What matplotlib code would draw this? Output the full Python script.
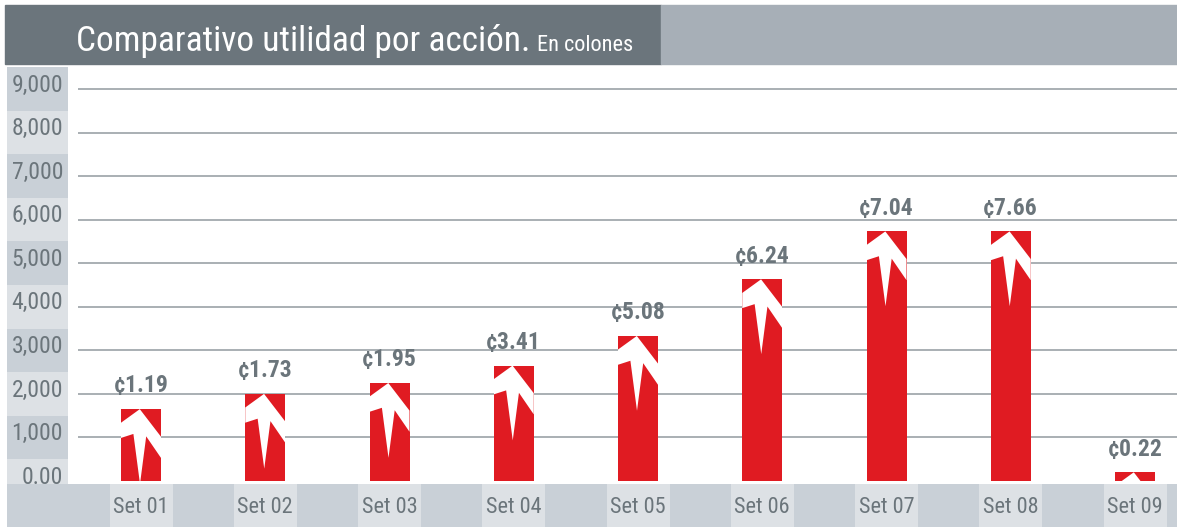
import matplotlib
matplotlib.use("Agg")
import matplotlib.pyplot as plt
from matplotlib import font_manager as fm
from matplotlib.patches import Rectangle, Polygon

# Data
categories = ["Set 01", "Set 02", "Set 03", "Set 04", "Set 05",
              "Set 06", "Set 07", "Set 08", "Set 09"]
values = [1650, 2000, 2250, 2650, 3330, 4630, 5730, 5730, 200]
value_labels = ["¢1.19", "¢1.73", "¢1.95", "¢3.41", "¢5.08",
                "¢6.24", "¢7.04", "¢7.66", "¢0.22"]
yticks = [0, 1000, 2000, 3000, 4000, 5000, 6000, 7000, 8000, 9000]
ytick_labels = ["0.00", "1,000", "2,000", "3,000", "4,000",
                "5,000", "6,000", "7,000", "8,000", "9,000"]
title = "Comparativo utilidad por acción."
subtitle = "En colones"

# Colours
red = "#e01b22"
text_gray = "#6b757b"
dark_bar = "#6b757c"
light_bar = "#a7afb7"
band_dark = "#c9d0d7"
band_light = "#dde1e5"
grid_color = "#a3a9ae"


def pick_font():
    for name in ["Liberation Sans Narrow", "Roboto Condensed", "Open Sans Condensed"]:
        try:
            fm.findfont(fm.FontProperties(family=name), fallback_to_default=False)
            return name
        except ValueError:
            pass
    return "DejaVu Sans"


font = pick_font()
plt.rcParams["font.family"] = [font, "DejaVu Sans"]

W, H = 1177, 527
fig = plt.figure(figsize=(W / 100, H / 100), dpi=100)


def fig_rect(x0, y0, x1, y1):
    # pixel box (top-left origin) -> figure fraction [left, bottom, width, height]
    return [x0 / W, 1 - y1 / H, (x1 - x0) / W, (y1 - y0) / H]


# Title bar
fig.patches.append(Rectangle((5 / W, 1 - 64 / H), (661 - 5) / W, 59 / H,
                             transform=fig.transFigure, color=dark_bar, zorder=0))
fig.patches.append(Rectangle((661 / W, 1 - 64 / H), (W - 661) / W, 59 / H,
                             transform=fig.transFigure, color=light_bar, zorder=0))
t = fig.text(76 / W, 1 - 51 / H, title, fontsize=25.5, color="white", va="baseline")
fig.canvas.draw()
ext = t.get_window_extent()
fig.text((ext.x1 + 7) / W, 1 - 51 / H, subtitle, fontsize=16, color="white", va="baseline")

# Layout of main plot (pixels)
plot_left, plot_right, plot_top, plot_bottom = 68, W, 67, 484
first_center, last_center = 141, 1135
step = (last_center - first_center) / (len(categories) - 1)
x_lo = -(first_center - plot_left) / step
x_hi = (len(categories) - 1) + (plot_right - last_center) / step
zero_px, top_px = 481, 89
px_per_unit = (zero_px - top_px) / 9000
y_lo = -(plot_bottom - zero_px) / px_per_unit
y_hi = 9000 + (top_px - plot_top) / px_per_unit

ax = fig.add_axes(fig_rect(plot_left, plot_top, plot_right, plot_bottom))
ax.set_xlim(x_lo, x_hi)
ax.set_ylim(y_lo, y_hi)
ax.axis("off")

# Gridlines
grid_start = x_lo + 10 / step
ax.hlines(yticks[1:], grid_start, x_hi, color=grid_color, linewidth=1.3, zorder=1)

# Bars with white arrows
bar_w_px = 40
bw = bar_w_px / step
xs = list(range(len(categories)))
bars = ax.bar(xs, values, width=bw, color=red, zorder=2)
arrow_shape = [(0.47, 0), (1.0, 0.69), (1.0, 1.22), (0.63, 0.68), (0.475, 1.87),
               (0.31, 0.62), (0.0, 0.72), (0.0, 0.34)]
for x, v, b in zip(xs, values, bars):
    left = x - bw / 2
    pts = [(left + u * bw, v - d * bar_w_px / px_per_unit) for u, d in arrow_shape]
    arrow = Polygon(pts, closed=True, facecolor="white", edgecolor="none", zorder=3)
    ax.add_patch(arrow)
    arrow.set_clip_path(b)

for x, v, lab in zip(xs, values, value_labels):
    ax.annotate(lab, (x, v), xytext=(0, 12), textcoords="offset points",
                ha="center", va="baseline", fontsize=17, fontweight="bold",
                color=text_gray, zorder=4)

# Y label column with alternating bands
ax_y = fig.add_axes(fig_rect(7, plot_top, plot_left, plot_bottom))
ax_y.set_xlim(0, 1)
ax_y.set_ylim(y_lo, y_hi)
ax_y.axis("off")
for i, (v, lab) in enumerate(zip(yticks, ytick_labels)):
    ax_y.axhspan(v - 500, v + 500, color=band_light if i % 2 == 0 else band_dark, lw=0)
    ax_y.text(0.92, v + 90, lab, ha="right", va="center", fontsize=17, color=text_gray)

# X label strip
ax_x = fig.add_axes(fig_rect(7, plot_bottom, W, H))
ax_x.set_xlim(x_lo - (plot_left - 7) / step, x_hi)
ax_x.set_ylim(0, 1)
ax_x.axis("off")
ax_x.axhspan(0, 1, color=band_dark, lw=0)
box_w = 63 / step
for x, lab in zip(xs, categories):
    ax_x.add_patch(Rectangle((x - box_w / 2, 0), box_w, 1, color=band_light, lw=0))
    ax_x.text(x, 0.45, lab, ha="center", va="center", fontsize=16, color=text_gray)

fig.savefig("out.png", dpi=100)
